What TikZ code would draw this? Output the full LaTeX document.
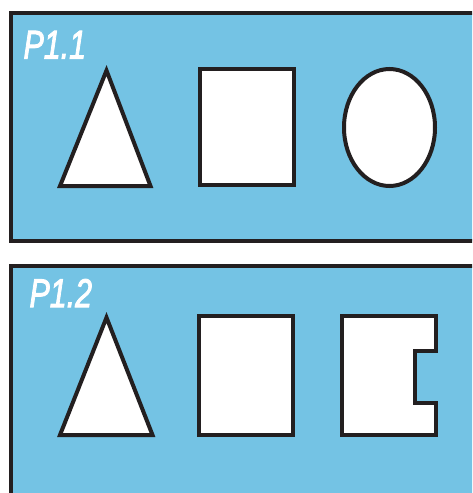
\documentclass[tikz,border=0pt]{standalone}
\usepackage{fontspec}
\setsansfont{Liberation Sans}
\definecolor{panelblue}{RGB}{116,195,228}
\definecolor{ink}{RGB}{35,31,32}
\begin{document}
\begin{tikzpicture}[x=1pt,y=-1pt,line width=4pt,
  panel/.style={draw=ink,fill=panelblue},
  figshape/.style={draw=ink,fill=white,line join=miter},
  lbl/.style={text=white,font=\sffamily\itshape\fontsize{40}{40}\selectfont,inner sep=0pt,anchor=base west,xscale=0.76}]
\useasboundingbox (0,0) rectangle (472,493);
\clip (0,0) rectangle (472,493);
\fill[white] (0,0) rectangle (472,493);
% panels
\draw[panel] (11,13) rectangle (490,241);
\draw[panel] (11,266) rectangle (490,520);
% labels
\node[lbl] (p11) at (22,58.5) {\addfontfeature{FakeBold=2.5}P1.1};
\node[lbl] (p12) at (28,307) {\addfontfeature{FakeBold=2.5}P1.2};
% panel 1 shapes
\draw[figshape] (106.5,70.5) -- (150.5,186) -- (60,186) -- cycle;
\draw[figshape] (200,69) rectangle (294,185);
\draw[figshape] (389.5,127.5) ellipse [x radius=45.5, y radius=58.5];
% panel 2 shapes
\draw[figshape] (106.5,317.5) -- (152.5,435) -- (60,435) -- cycle;
\draw[figshape] (199,316) rectangle (293,435);
\draw[figshape] (342,316) -- (436,316) -- (436,351) -- (415,351) -- (415,403) -- (436,403) -- (436,435) -- (342,435) -- cycle;
\end{tikzpicture}
\end{document}
